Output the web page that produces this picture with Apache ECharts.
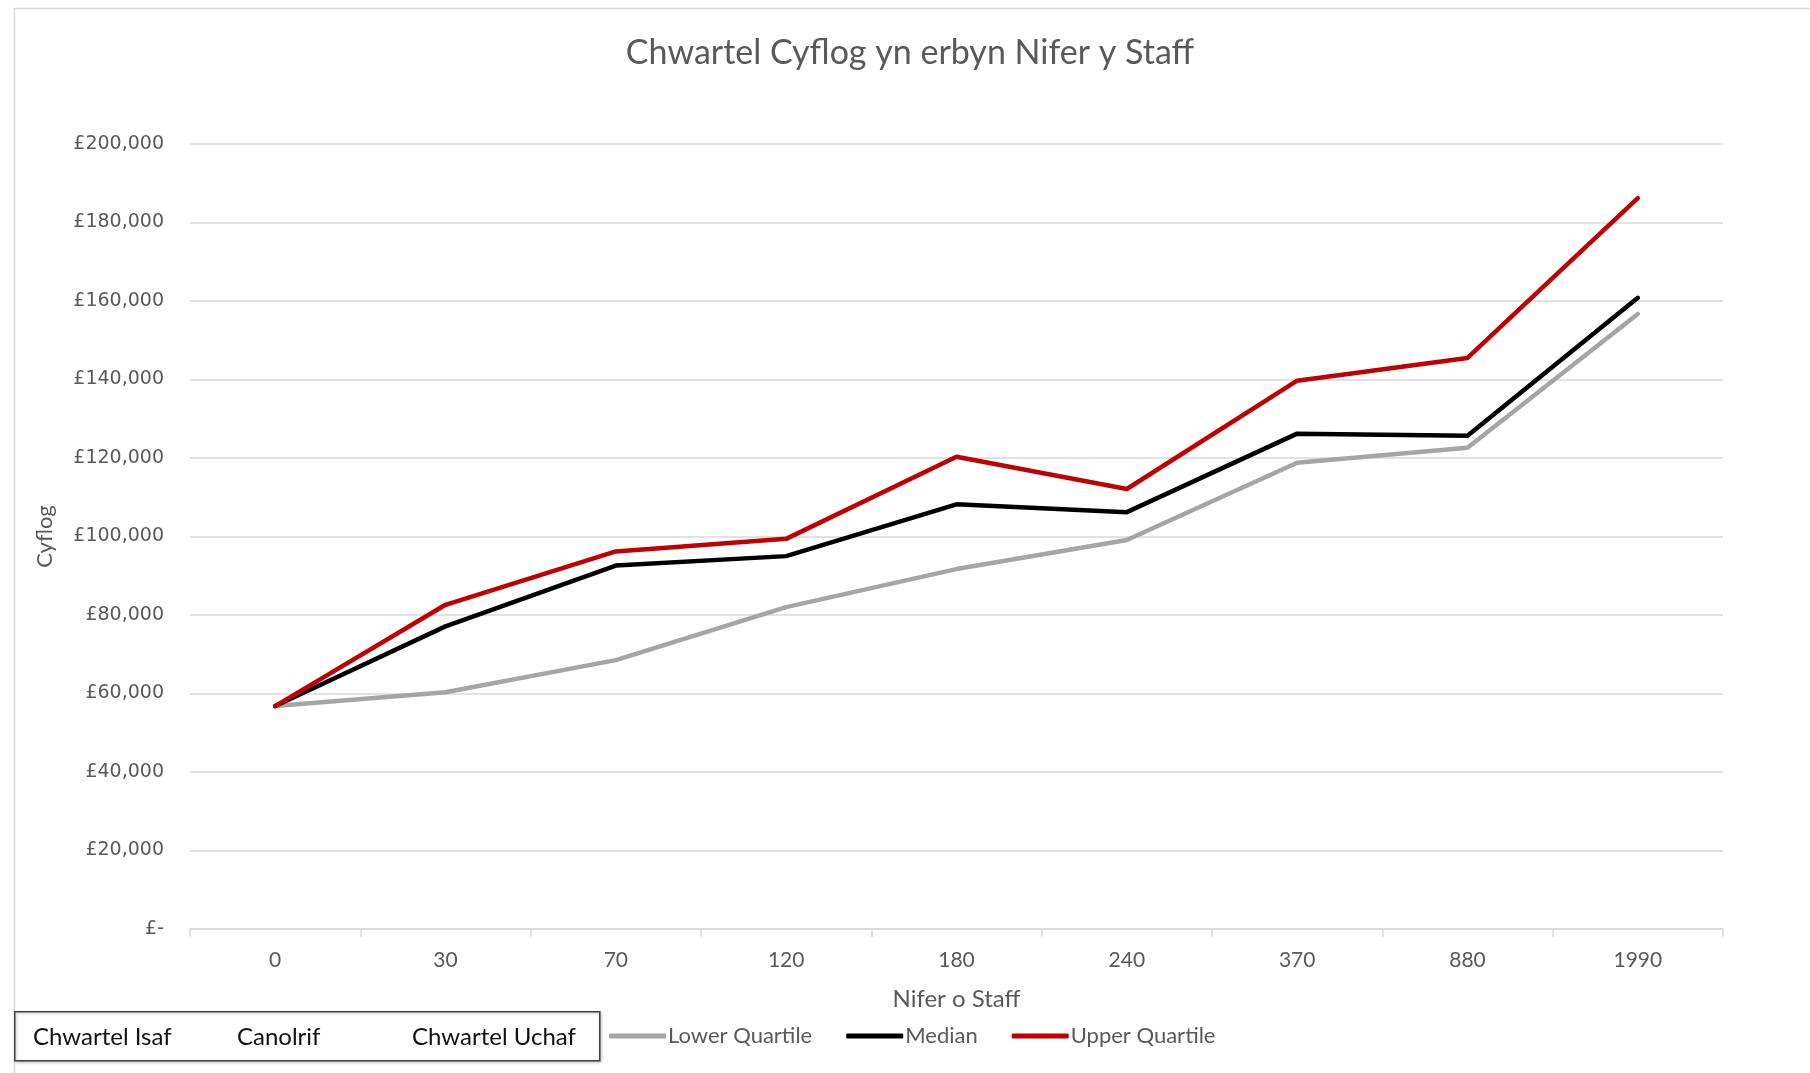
<!DOCTYPE html>
<html>
<head>
<meta charset="utf-8">
<script src="https://cdn.jsdelivr.net/npm/echarts@6/dist/echarts.min.js"></script>
<style>
html,body{margin:0;padding:0;background:#fff;}
#chart{width:1810px;height:1073px;}
</style>
</head>
<body>
<div id="chart"></div>
<script>
const categories = ['0','30','70','120','180','240','370','880','1990'];
const lowerQuartile = [56800, 60300, 68500, 82000, 91700, 99100, 118800, 122600, 156700];
const median = [56800, 77100, 92600, 95000, 108200, 106200, 126200, 125700, 160800];
const upperQuartile = [56800, 82600, 96200, 99400, 120300, 112100, 139700, 145500, 186200];
const yTicks = { min: 0, max: 200000, interval: 20000 };
const boxLabels = ['Chwartel Isaf', 'Canolrif', 'Chwartel Uchaf'];

const chart = echarts.init(document.getElementById('chart'), null, {renderer: 'canvas'});
const FONT = 'Lato';
const TXT = '#595959';

function fmt(v){
  if (v === 0) return '£-';
  return '£' + v.toString().replace(/\B(?=(\d{3})+(?!\d))/g, ',');
}

const lineSeries = (name, data, color) => ({
  name, type: 'line', data,
  showSymbol: false, symbol: 'none',
  lineStyle: { color, width: 4.5, cap: 'round', join: 'round' },
  itemStyle: { color },
  emphasis: { disabled: true },
  animation: false
});

chart.setOption({
  animation: false,
  backgroundColor: '#fff',
  title: {
    text: 'Chwartel Cyflog yn erbyn Nifer y Staff',
    left: 905, top: 31, textAlign: 'center',
    textStyle: { fontFamily: FONT, fontSize: 34, fontWeight: 'normal', color: TXT }
  },
  legend: {
    left: 604, top: 1020,
    itemWidth: 57, itemHeight: 5, itemGap: 34,
    icon: 'roundRect',
    textStyle: { fontFamily: FONT, fontSize: 22, color: TXT, padding: [0,0,0,-3] },
    data: ['Lower Quartile', 'Median', 'Upper Quartile']
  },
  grid: { left: 190, right: 87, top: 144, bottom: 144, containLabel: false },
  xAxis: {
    type: 'category', data: categories, boundaryGap: true,
    name: 'Nifer o Staff', nameLocation: 'middle', nameGap: 58,
    nameTextStyle: { fontFamily: FONT, fontSize: 24, color: TXT },
    axisLine: { lineStyle: { color: '#d9d9d9', width: 1.5 } },
    axisTick: { show: true, length: 8, lineStyle: { color: '#d9d9d9', width: 1.5 } },
    axisLabel: { fontFamily: FONT, fontSize: 21, color: TXT, margin: 21 },
    splitLine: { show: false }
  },
  yAxis: {
    type: 'value', min: yTicks.min, max: yTicks.max, interval: yTicks.interval,
    name: 'Cyflog', nameLocation: 'middle', nameGap: 134, nameRotate: 90,
    nameTextStyle: { fontFamily: FONT, fontSize: 22, color: TXT },
    axisLine: { show: false }, axisTick: { show: false },
    axisLabel: { formatter: fmt, fontFamily: 'DejaVu Sans', fontSize: 19, color: TXT, margin: 26 },
    splitLine: { lineStyle: { color: '#d9d9d9', width: 1.5 } }
  },
  graphic: [
    { type: 'rect', left: 12, top: 6, silent: true,
      shape: { width: 1900, height: 1200 },
      style: { fill: 'none', stroke: '#d9d9d9', lineWidth: 1.5 }, z: -1 },
    { type: 'rect', left: 14, top: 1011, silent: true,
      shape: { width: 585, height: 49 },
      style: { fill: '#fff', stroke: '#404040', lineWidth: 1.5,
               shadowBlur: 3, shadowColor: 'rgba(0,0,0,0.25)', shadowOffsetX: 1, shadowOffsetY: 1 } },
    { type: 'text', x: 33, y: 1037, silent: true,
      style: { text: boxLabels[0], fontFamily: FONT, fontSize: 24, fill: '#111', verticalAlign: 'middle' } },
    { type: 'text', x: 237, y: 1037, silent: true,
      style: { text: boxLabels[1], fontFamily: FONT, fontSize: 24, fill: '#111', verticalAlign: 'middle' } },
    { type: 'text', x: 412, y: 1037, silent: true,
      style: { text: boxLabels[2], fontFamily: FONT, fontSize: 24, fill: '#111', verticalAlign: 'middle' } }
  ],
  series: [
    lineSeries('Lower Quartile', lowerQuartile, '#a5a5a5'),
    lineSeries('Median', median, '#000000'),
    lineSeries('Upper Quartile', upperQuartile, '#c00000')
  ]
});
</script>
</body>
</html>
